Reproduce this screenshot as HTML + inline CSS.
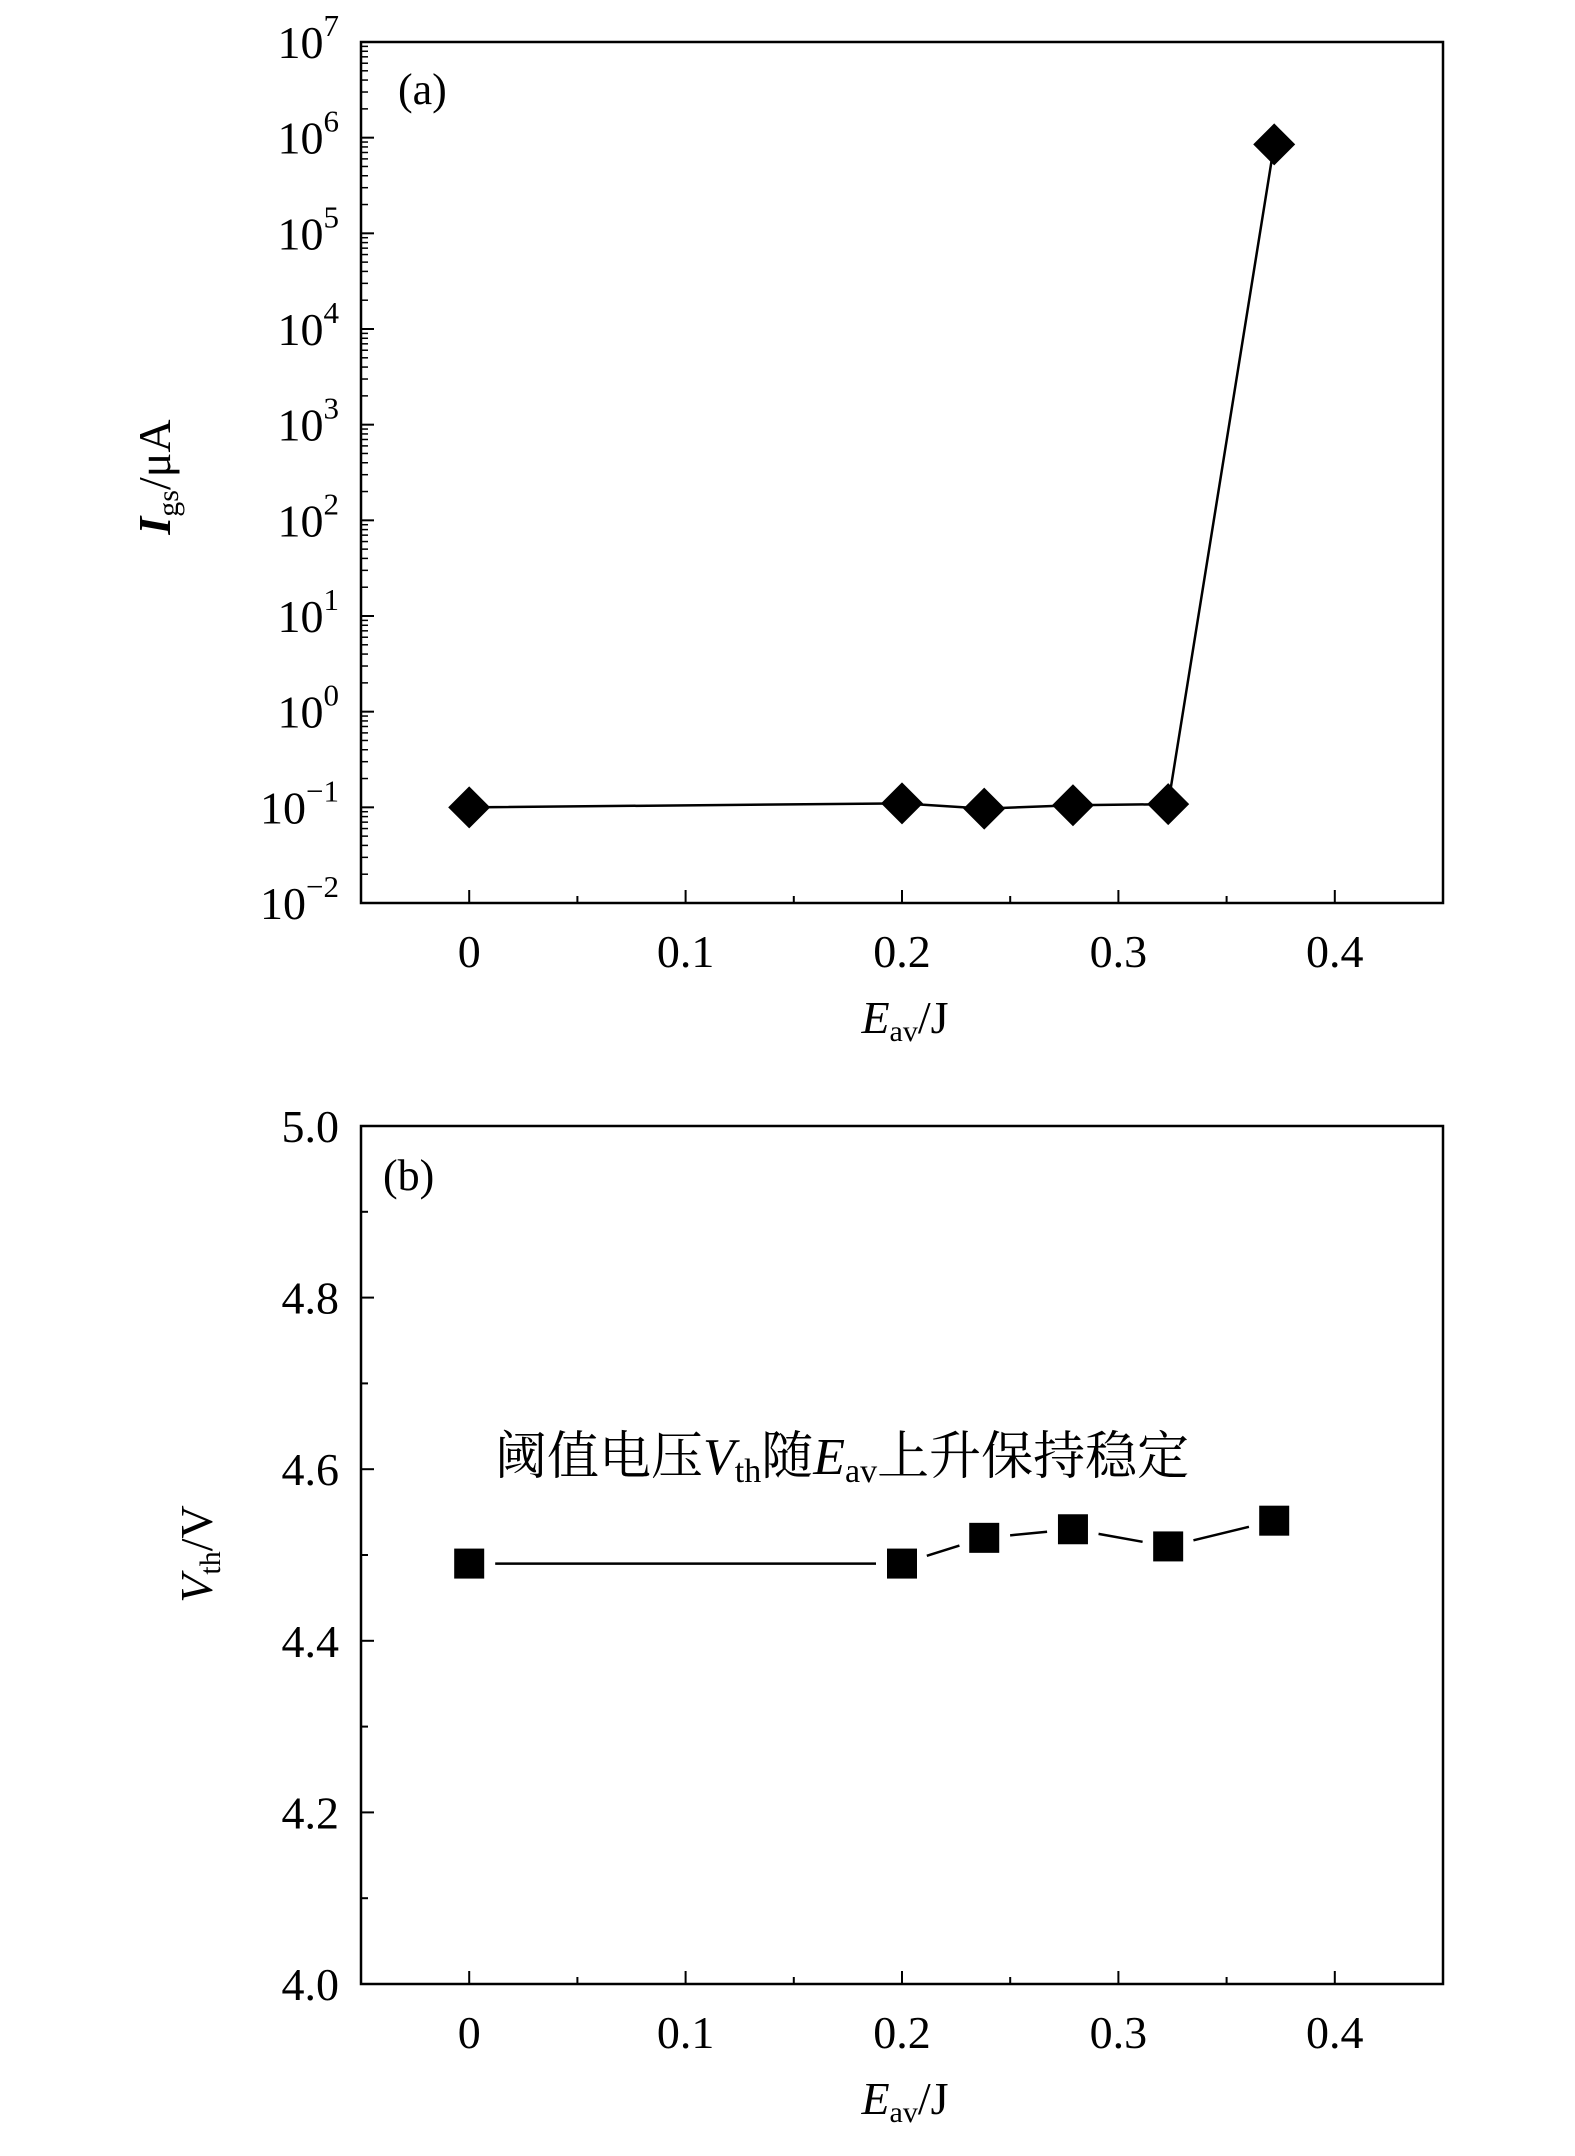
<!DOCTYPE html>
<html><head><meta charset="utf-8"><style>
html,body{margin:0;padding:0;background:#fff;}
svg{display:block;font-family:"Liberation Serif","Noto Serif CJK SC",serif;}
</style></head><body>
<svg id="c" width="1575" height="2156" viewBox="0 0 1575 2156">
<g id="ga"></g>
<g id="gb"></g>
</svg>
<script>
const xValues=[0,0.2,0.238,0.279,0.323,0.372];
const igsValues=[0.1,0.11,0.097,0.105,0.108,850000];
const vthValues=[4.49,4.49,4.52,4.53,4.51,4.54];
const xTickLabels=["0","0.1","0.2","0.3","0.4"];
const xTicks=[0,0.1,0.2,0.3,0.4];
const logExps=[-2,-1,0,1,2,3,4,5,6,7];
const vTicks=[4.0,4.2,4.4,4.6,4.8,5.0];
const vTickLabels=["4.0","4.2","4.4","4.6","4.8","5.0"];
const NS="http://www.w3.org/2000/svg";
function mk(parent,tag,attrs,text){const e=document.createElementNS(NS,tag);for(const k in attrs)e.setAttribute(k,attrs[k]);if(text!==undefined)e.textContent=text;parent.appendChild(e);return e;}
const L=361,R=1443;
const xs=v=>L+(v+0.05)/0.5*(R-L);
function frame(g,T,B){
  const r=mk(g,'rect',{x:L,y:T,width:R-L,height:B-T,fill:'none',stroke:'#000','stroke-width':2.5});
  
  
  for(let i=0;i<xTicks.length;i++){
    const x=xs(xTicks[i]);
    const t=mk(g,'line',{x1:x,y1:B,x2:x,y2:B-13,stroke:'#000','stroke-width':2});
    
    
    const m=mk(g,'line',{x1:xs(xTicks[i]+0.05),y1:B,x2:xs(xTicks[i]+0.05),y2:B-7,stroke:'#000','stroke-width':2});
    
    
    const lb=mk(g,'text',{x:x,y:B+64,'text-anchor':'middle','font-size':46},xTickLabels[i]);
    
    
  }
  const xt=mk(g,'text',{x:905,y:B+130,'text-anchor':'middle','font-size':46});
  
  
  mk(xt,'tspan',{'font-style':'italic'},'E');
  mk(xt,'tspan',{'font-size':30,dy:8},'av');
  mk(xt,'tspan',{dy:-8},'/J');
}
(function(){
  const g=document.getElementById('ga');const T=42,B=903;
  const ys=v=>B-(Math.log10(v)+2)/9*(B-T);
  frame(g,T,B);
  for(const e of logExps){
    const y=ys(Math.pow(10,e));
    const t=mk(g,'line',{x1:L,y1:y,x2:L+13,y2:y,stroke:'#000','stroke-width':2});
    
    
    if(e<7)for(let k=2;k<10;k++){const yy=ys(k*Math.pow(10,e));
      const m=mk(g,'line',{x1:L,y1:yy,x2:L+7,y2:yy,stroke:'#000','stroke-width':1.5});
      
      }
    const lb=mk(g,'text',{x:L-22,y:y+16,'text-anchor':'end','font-size':46});
    
    
    mk(lb,'tspan',{},'10');
    mk(lb,'tspan',{'font-size':31,dy:-22},e<0?'\u2212'+(-e):String(e));
  }
  let d='';xValues.forEach((v,i)=>{d+=(i?'L':'M')+xs(v)+' '+ys(igsValues[i]);});
  const p=mk(g,'path',{d:d,fill:'none',stroke:'#000','stroke-width':2.5});
  
  
  xValues.forEach((v,i)=>{const x=xs(v),y=ys(igsValues[i]),s=21;
    const m=mk(g,'path',{d:`M${x} ${y-s}L${x+s} ${y}L${x} ${y+s}L${x-s} ${y}Z`,fill:'#000'});
    
    });
  const yt=mk(g,'text',{transform:'translate(170,477) rotate(-90)','text-anchor':'middle','font-size':46});
  
  
  mk(yt,'tspan',{'font-style':'italic','font-weight':'bold'},'I');
  mk(yt,'tspan',{'font-size':30,dy:8},'gs');
  mk(yt,'tspan',{dy:-8},'/\u03bcA');
  const pl=mk(g,'text',{x:398,y:104,'font-size':44},'(a)');
  
  
})();
(function(){
  const g=document.getElementById('gb');const T=1126,B=1984;
  const ys=v=>B-(v-4.0)/1.0*(B-T);
  frame(g,T,B);
  vTicks.forEach((v,i)=>{const y=ys(v);
    const t=mk(g,'line',{x1:L,y1:y,x2:L+13,y2:y,stroke:'#000','stroke-width':2});
    
    
    if(i<vTicks.length-1){const yy=ys(v+0.1);
      const m=mk(g,'line',{x1:L,y1:yy,x2:L+7,y2:yy,stroke:'#000','stroke-width':2});
      
      }
    const lb=mk(g,'text',{x:L-22,y:y+16,'text-anchor':'end','font-size':46},vTickLabels[i]);
    
    
  });
  for(let i=0;i<xValues.length-1;i++){
    const x1=xs(xValues[i]),y1=ys(vthValues[i]),x2=xs(xValues[i+1]),y2=ys(vthValues[i+1]);
    const dx=x2-x1,dy=y2-y1,len=Math.hypot(dx,dy),g0=26/len;
    const ln=mk(g,'line',{x1:x1+dx*g0,y1:y1+dy*g0,x2:x2-dx*g0,y2:y2-dy*g0,stroke:'#000','stroke-width':2.5});
    
    
  }
  xValues.forEach((v,i)=>{const x=xs(v),y=ys(vthValues[i]),s=15;
    const m=mk(g,'rect',{x:x-s,y:y-s,width:2*s,height:2*s,fill:'#000'});
    
    });
  const yt=mk(g,'text',{transform:'translate(212,1554) rotate(-90)','text-anchor':'middle','font-size':46});
  
  
  mk(yt,'tspan',{'font-style':'italic'},'V');
  mk(yt,'tspan',{'font-size':30,dy:8},'th');
  mk(yt,'tspan',{dy:-8},'/V');
  const pl=mk(g,'text',{x:383,y:1190,'font-size':44},'(b)');
  
  
  const an=mk(g,'text',{x:495,y:1474,'font-size':52});
  
  
  mk(an,'tspan',{},'阈值电压');
  mk(an,'tspan',{'font-style':'italic'},'V');
  mk(an,'tspan',{'font-size':34,dy:8},'th');
  mk(an,'tspan',{dy:-8},'随');
  mk(an,'tspan',{'font-style':'italic'},'E');
  mk(an,'tspan',{'font-size':34,dy:8},'av');
  mk(an,'tspan',{dy:-8},'上升保持稳定');
})();
</script>
</body></html>
